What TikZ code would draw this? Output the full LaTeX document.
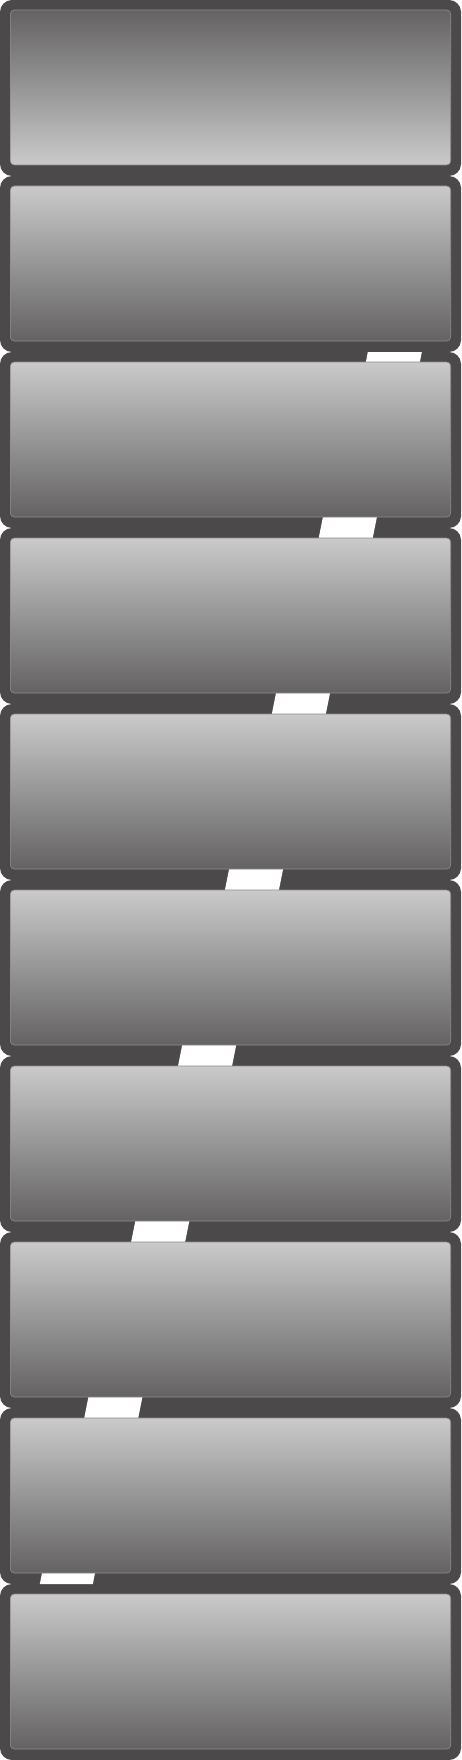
\documentclass[tikz,border=0pt]{standalone}
\definecolor{frame}{HTML}{4B494A}
\definecolor{lite}{HTML}{CACACA}
\definecolor{deep}{HTML}{646263}
\definecolor{rim}{HTML}{8E8D8D}
\begin{document}
\begin{tikzpicture}[x=1pt,y=-1pt,
  outerbox/.style={fill=frame, rounded corners=12pt, minimum width=461pt, minimum height=176pt, inner sep=0pt, outer sep=0pt, anchor=north west},
  panel/.style={draw=rim, line width=0.6pt, rounded corners=4pt, minimum width=440.4pt, minimum height=155pt, inner sep=0pt, outer sep=0pt, anchor=north west, top color=lite, bottom color=deep},
  panelrev/.style={panel, top color=deep, bottom color=lite},
  link/.style={fill=white, draw=none}]
\fill[white] (0,0) rectangle (461,1760);
\useasboundingbox (0,0) rectangle (461,1760);
% outer frames
\foreach \i in {1,...,10} {
  \node[outerbox] (o\i) at (0,{176*(\i-1)}) {};
}
% white links in the gaps
\fill[link] (367.8,352) -- (421.8,352) -- (419.8,362.5) -- (365.8,362.5) -- cycle;
\foreach \k in {3,...,8} {
  \pgfmathsetmacro{\xa}{370-46.9*(\k-2)}
  \pgfmathsetmacro{\ya}{176*\k-12}
  \pgfmathsetmacro{\yb}{176*\k+11}
  \fill[link] (\xa,\ya) -- ({\xa+54},\ya) -- ({\xa+54-4.6},\yb) -- ({\xa-4.6},\yb) -- cycle;
}
\fill[link] (42,1573) -- (95,1573) -- (92.8,1584) -- (39.8,1584) -- cycle;
% inner panels
\node[panelrev] (p1) at (10.3,10) {};
\foreach \i in {2,...,10} {
  \node[panel] (p\i) at (10.3,{176*(\i-1)+10}) {};
}
\end{tikzpicture}
\end{document}
